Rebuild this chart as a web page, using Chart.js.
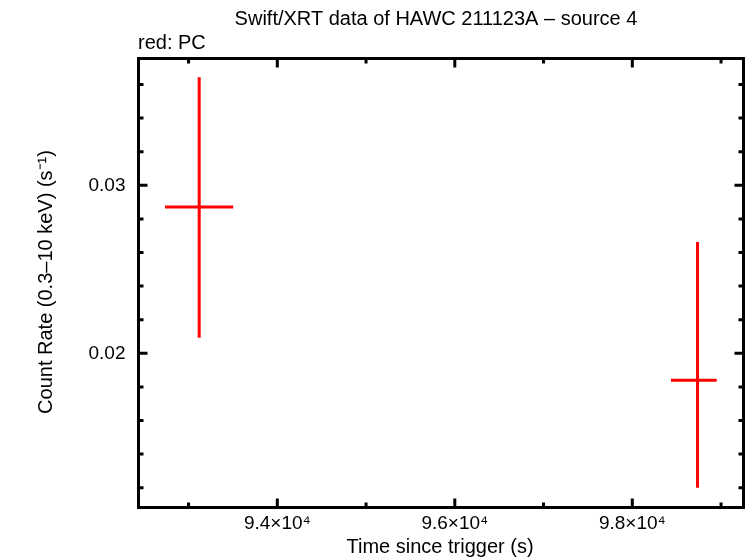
<!DOCTYPE html>
<html><head><meta charset="utf-8">
<script src="https://cdn.jsdelivr.net/npm/chart.js@4/dist/chart.umd.min.js"></script>
<style>html,body{margin:0;padding:0;background:#fff}#wrap{width:746px;height:558px;position:relative}</style>
</head><body><div id="wrap"><canvas id="c"></canvas></div>
<script>
// ---- data ----
const timeSec  = [93120, 98735];
const timeLo   = [92735, 98436];
const timeHi   = [93503, 98951];
const rate     = [0.02871, 0.01839];
const rateLo   = [0.02093, 0.01200];
const rateHi   = [0.03643, 0.02663];
const xTickValues = [93000, 94000, 95000, 96000, 97000, 98000, 99000];
const xTickLabels = {94000: '9.4×10⁴', 96000: '9.6×10⁴', 98000: '9.8×10⁴'};
const yTickValues = [0.012, 0.014, 0.016, 0.018, 0.020, 0.022, 0.024, 0.026, 0.028, 0.030, 0.032, 0.034, 0.036];
const yTickLabels = {'0.020': '0.02', '0.030': '0.03'};
const mainTitle = 'Swift/XRT data of HAWC 211123A – source 4';
const subTitle  = 'red: PC';
const xTitle    = 'Time since trigger (s)';
const yTitle    = 'Count Rate (0.3–10 keV) (s⁻¹)';

const FONT = '"Liberation Sans", Arial, Helvetica, sans-serif';
const RED = '#ff0000';

function xLabel(v){ return xTickLabels[Math.round(v)] || ''; }
function yLabel(v){ return yTickLabels[Number(v).toFixed(3)] || ''; }

const errorBars = {
  id: 'errorBars',
  afterDatasetsDraw(chart) {
    const {ctx, scales: {x, y}} = chart;
    ctx.save();
    ctx.strokeStyle = RED;
    ctx.lineWidth = 3;
    ctx.lineCap = 'butt';
    for (let i = 0; i < timeSec.length; i++) {
      const px = x.getPixelForValue(timeSec[i]);
      const py = y.getPixelForValue(rate[i]);
      ctx.beginPath();
      ctx.moveTo(x.getPixelForValue(timeLo[i]), py);
      ctx.lineTo(x.getPixelForValue(timeHi[i]), py);
      ctx.moveTo(px, y.getPixelForValue(rateLo[i]));
      ctx.lineTo(px, y.getPixelForValue(rateHi[i]));
      ctx.stroke();
    }
    ctx.restore();
  }
};

const frame = {
  id: 'frame',
  afterDraw(chart) {
    const {ctx, chartArea: a, scales: {x, y}} = chart;
    ctx.save();
    ctx.strokeStyle = '#000';
    ctx.lineWidth = 3;
    ctx.lineCap = 'square';
    ctx.strokeRect(a.left, a.top, a.right - a.left, a.bottom - a.top);
    ctx.lineCap = 'butt';
    ctx.beginPath();
    x.ticks.forEach(t => {
      const px = x.getPixelForValue(t.value);
      const len = xLabel(t.value) ? 9 : 5;
      ctx.moveTo(px, a.bottom); ctx.lineTo(px, a.bottom - len);
      ctx.moveTo(px, a.top); ctx.lineTo(px, a.top + len);
    });
    y.ticks.forEach(t => {
      const py = y.getPixelForValue(t.value);
      const len = yLabel(t.value) ? 9 : 5;
      ctx.moveTo(a.left, py); ctx.lineTo(a.left + len, py);
      ctx.moveTo(a.right, py); ctx.lineTo(a.right - len, py);
    });
    ctx.stroke();
    // texts
    ctx.fillStyle = '#000';
    ctx.font = '20px ' + FONT;
    ctx.textBaseline = 'middle';
    ctx.textAlign = 'center';
    ctx.fillText(mainTitle, 436, 19);
    ctx.fillText(xTitle, 440, 547);
    ctx.textAlign = 'left';
    ctx.fillText(subTitle, 138, 43);
    ctx.translate(46, 282);
    ctx.rotate(-Math.PI / 2);
    ctx.textAlign = 'center';
    ctx.fillText(yTitle, 0, 0);
    ctx.restore();
  }
};

new Chart(document.getElementById('c'), {
  type: 'scatter',
  data: {
    datasets: [{
      data: timeSec.map((t, i) => ({x: t, y: rate[i]})),
      pointRadius: 0,
      borderColor: RED,
      backgroundColor: RED
    }]
  },
  options: {
    responsive: true,
    maintainAspectRatio: false,
    animation: false,
    events: [],
    layout: {padding: {top: 58.5, right: 2.5, left: 0, bottom: 0}},
    plugins: {legend: {display: false}, tooltip: {enabled: false}, title: {display: false}},
    scales: {
      x: {
        type: 'linear',
        min: 92436, max: 99253,
        afterBuildTicks: s => { s.ticks = xTickValues.map(v => ({value: v})); },
        afterFit: s => { s.height = 50.5; },
        grid: {display: false, drawTicks: false},
        border: {display: false},
        ticks: {
          autoSkip: false, maxRotation: 0, padding: 5,
          color: '#000', font: {family: FONT, size: 19},
          callback: v => xLabel(v)
        }
      },
      y: {
        type: 'linear',
        min: 0.010821, max: 0.037548,
        afterBuildTicks: s => { s.ticks = yTickValues.map(v => ({value: v})); },
        afterFit: s => { s.width = 138.5; },
        grid: {display: false, drawTicks: false},
        border: {display: false},
        ticks: {
          autoSkip: false, padding: 13,
          color: '#000', font: {family: FONT, size: 19},
          callback: v => yLabel(v)
        }
      }
    }
  },
  plugins: [errorBars, frame]
});
</script>
</body></html>
